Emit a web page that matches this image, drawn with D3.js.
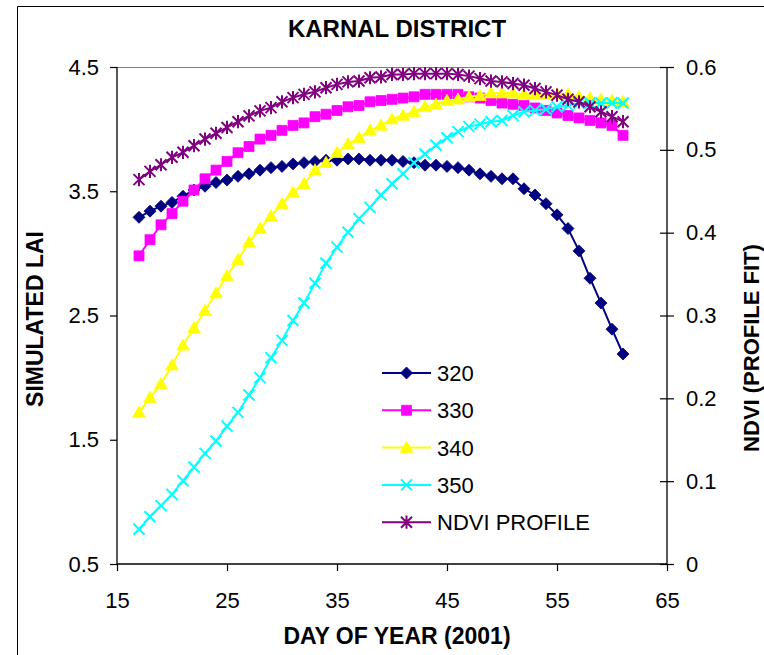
<!DOCTYPE html>
<html>
<head>
<meta charset="utf-8">
<script src="https://cdn.jsdelivr.net/npm/d3@7"></script>
<style>
  html, body { margin: 0; padding: 0; background: #fff; }
  svg { display: block; }
  text { font-family: Arial, "Liberation Sans", Helvetica, sans-serif; fill: #000; }
</style>
</head>
<body>
<svg id="chart" width="764" height="655"></svg>
<script>
// Day of year (2001)
const days = [17, 18, 19, 20, 21, 22, 23, 24, 25, 26, 27, 28, 29, 30, 31, 32, 33, 34, 35, 36, 37, 38, 39,
              40, 41, 42, 43, 44, 45, 46, 47, 48, 49, 50, 51, 52, 53, 54, 55, 56, 57, 58, 59, 60, 61];

// Simulated LAI for each sowing date
const lai320 = [3.29, 3.34, 3.38, 3.41, 3.46, 3.51, 3.54, 3.57, 3.59, 3.62, 3.64, 3.67, 3.69, 3.70, 3.72,
                3.73, 3.74, 3.75, 3.75, 3.76, 3.76, 3.75, 3.75, 3.75, 3.74, 3.73, 3.71, 3.71, 3.70, 3.69,
                3.67, 3.64, 3.62, 3.60, 3.60, 3.52, 3.47, 3.40, 3.31, 3.20, 3.02, 2.80, 2.60, 2.39, 2.19];
const lai330 = [2.98, 3.11, 3.23, 3.32, 3.42, 3.51, 3.60, 3.67, 3.74, 3.81, 3.86, 3.92, 3.95, 3.99, 4.03,
                4.05, 4.10, 4.12, 4.15, 4.18, 4.19, 4.22, 4.23, 4.24, 4.25, 4.26, 4.28, 4.28, 4.28, 4.28,
                4.26, 4.25, 4.23, 4.21, 4.20, 4.19, 4.17, 4.15, 4.13, 4.11, 4.09, 4.07, 4.05, 4.03, 3.95];
const lai340 = [1.72, 1.84, 1.95, 2.10, 2.26, 2.40, 2.54, 2.68, 2.82, 2.95, 3.09, 3.20, 3.30, 3.40, 3.49,
                3.56, 3.67, 3.73, 3.81, 3.88, 3.93, 3.99, 4.03, 4.08, 4.11, 4.14, 4.18, 4.20, 4.23, 4.24,
                4.26, 4.27, 4.29, 4.29, 4.29, 4.28, 4.28, 4.28, 4.28, 4.28, 4.26, 4.25, 4.24, 4.23, 4.22];
const lai350 = [0.78, 0.88, 0.97, 1.06, 1.17, 1.28, 1.39, 1.49, 1.61, 1.72, 1.86, 2.00, 2.16, 2.30, 2.46,
                2.60, 2.76, 2.92, 3.05, 3.17, 3.28, 3.37, 3.47, 3.56, 3.64, 3.73, 3.80, 3.87, 3.93, 3.98,
                4.02, 4.04, 4.06, 4.07, 4.11, 4.14, 4.15, 4.16, 4.18, 4.19, 4.21, 4.21, 4.21, 4.21, 4.21];

// Fitted NDVI profile (secondary axis)
const ndvi = [0.464, 0.474, 0.482, 0.491, 0.497, 0.505, 0.513, 0.520, 0.527, 0.534, 0.541, 0.547, 0.551,
              0.558, 0.563, 0.567, 0.570, 0.575, 0.579, 0.582, 0.583, 0.587, 0.588, 0.591, 0.591, 0.592,
              0.592, 0.592, 0.592, 0.591, 0.589, 0.586, 0.583, 0.582, 0.580, 0.578, 0.574, 0.570, 0.566,
              0.561, 0.558, 0.552, 0.546, 0.540, 0.534];

// Axis ticks
const xTicks = [15, 25, 35, 45, 55, 65];
const yLeftTicks = [0.5, 1.5, 2.5, 3.5, 4.5];
const yRightTicks = [0, 0.1, 0.2, 0.3, 0.4, 0.5, 0.6];

const seriesNames = ["320", "330", "340", "350", "NDVI PROFILE"];

const svg = d3.select("#chart");
const W = 764, H = 655;
const plot = { left: 117, right: 667, top: 67, bottom: 564 };

const x = d3.scaleLinear().domain([15, 65]).range([plot.left, plot.right]);
const yL = d3.scaleLinear().domain([0.5, 4.5]).range([plot.bottom, plot.top]);
const yR = d3.scaleLinear().domain([0, 0.6]).range([plot.bottom, plot.top]);

// Chart area frame (open on the right and bottom edges)
svg.append("path")
  .attr("d", `M17.5,${H + 2}V6.5H${W + 2}`)
  .attr("fill", "none").attr("stroke", "#000").attr("stroke-width", 1);

// Plot area top border
svg.append("line")
  .attr("x1", plot.left).attr("x2", plot.right)
  .attr("y1", plot.top + 0.5).attr("y2", plot.top + 0.5)
  .attr("stroke", "#808080").attr("stroke-width", 1);

// Marker shapes
const markers = {
  diamond: r => `M0,${-r}L${r},0L0,${r}L${-r},0Z`,
  square: r => `M${-r},${-r}H${r}V${r}H${-r}Z`,
  triangle: r => `M0,${-r * 1.05}L${r * 1.05},${r * 0.8}L${-r * 1.05},${r * 0.8}Z`,
  cross: r => `M${-r},${-r}L${r},${r}M${-r},${r}L${r},${-r}`,
  star: r => `M${-r},${-r}L${r},${r}M${-r},${r}L${r},${-r}M0,${-r * 1.2}V${r * 1.2}`
};

const series = [
  { name: seriesNames[0], values: lai320, y: yL, color: "#000080", shape: "diamond", r: 6, filled: true },
  { name: seriesNames[1], values: lai330, y: yL, color: "#FF00FF", shape: "square", r: 5, filled: true },
  { name: seriesNames[2], values: lai340, y: yL, color: "#FFFF00", shape: "triangle", r: 6, filled: true },
  { name: seriesNames[3], values: lai350, y: yL, color: "#00FFFF", shape: "cross", r: 5.5, filled: false },
  { name: seriesNames[4], values: ndvi, y: yR, color: "#800080", shape: "star", r: 5.5, filled: false }
];

function drawMarker(g, s, px, py) {
  const p = g.append("path")
    .attr("transform", `translate(${px},${py})`)
    .attr("d", markers[s.shape](s.r));
  if (s.filled) {
    p.attr("fill", s.color).attr("stroke", s.color).attr("stroke-width", 0.8);
  } else {
    p.attr("fill", "none").attr("stroke", s.color).attr("stroke-width", 2);
  }
}

const linesG = svg.append("g");
series.forEach(s => {
  const g = linesG.append("g");
  const line = d3.line().x((d, i) => x(days[i])).y(d => s.y(d));
  g.append("path")
    .datum(s.values)
    .attr("d", line)
    .attr("fill", "none")
    .attr("stroke", s.color)
    .attr("stroke-width", 2);
  s.values.forEach((v, i) => drawMarker(g, s, x(days[i]), s.y(v)));
});

// Axes
const fontSize = 22;
const axisColor = "#000";

const xAxis = svg.append("g")
  .attr("transform", `translate(0,${plot.bottom})`)
  .call(d3.axisBottom(x).tickValues(xTicks).tickSize(7).tickPadding(21).tickFormat(d3.format("d")));

const yAxisL = svg.append("g")
  .attr("transform", `translate(${plot.left},0)`)
  .call(d3.axisLeft(yL).tickValues(yLeftTicks).tickSize(7).tickPadding(11).tickFormat(d3.format(".1f")));

const yAxisR = svg.append("g")
  .attr("transform", `translate(${plot.right},0)`)
  .call(d3.axisRight(yR).tickValues(yRightTicks).tickSize(7).tickPadding(12)
    .tickFormat(d => d === 0 ? "0" : d3.format(".1f")(d)));
// Secondary axis ticks cross the axis line
yAxisR.selectAll(".tick line").attr("x1", -7);

[xAxis, yAxisL, yAxisR].forEach(a => {
  a.select(".domain").attr("stroke", axisColor).attr("stroke-width", 1.3);
  a.selectAll(".tick line").attr("stroke", axisColor).attr("stroke-width", 1.2);
  a.selectAll(".tick text")
    .style("font-family", "Arial, 'Liberation Sans', sans-serif")
    .style("font-size", fontSize + "px")
    .attr("fill", "#000");
});
// Plain axis lines without end caps
xAxis.select(".domain").attr("d", `M${plot.left},0H${plot.right}`);
yAxisL.select(".domain").attr("d", `M0,${plot.top}V${plot.bottom}`);
yAxisR.select(".domain").attr("d", `M0,${plot.top}V${plot.bottom}`);

// Titles
svg.append("text")
  .attr("x", 397).attr("y", 37)
  .attr("text-anchor", "middle")
  .style("font-size", "24px").style("font-weight", "bold")
  .text("KARNAL DISTRICT");

svg.append("text")
  .attr("x", 397).attr("y", 644)
  .attr("text-anchor", "middle")
  .style("font-size", "23px").style("font-weight", "bold")
  .text("DAY OF YEAR (2001)");

svg.append("text")
  .attr("transform", "translate(43,319) rotate(-90)")
  .attr("text-anchor", "middle")
  .style("font-size", "23px").style("font-weight", "bold")
  .text("SIMULATED LAI");

svg.append("text")
  .attr("transform", "translate(759,348) rotate(-90)")
  .attr("text-anchor", "middle")
  .style("font-size", "22px").style("font-weight", "bold")
  .text("NDVI (PROFILE FIT)");

// Legend
const legend = svg.append("g").attr("transform", "translate(382,373)");
series.forEach((s, i) => {
  const row = legend.append("g").attr("transform", `translate(0,${i * 37.3})`);
  row.append("line").attr("x1", 0).attr("x2", 49).attr("y1", 0).attr("y2", 0)
    .attr("stroke", s.color).attr("stroke-width", 2);
  drawMarker(row, s, 24.5, 0);
  row.append("text")
    .attr("x", 55).attr("y", 8)
    .style("font-size", "22px")
    .text(s.name);
});
</script>
</body>
</html>
